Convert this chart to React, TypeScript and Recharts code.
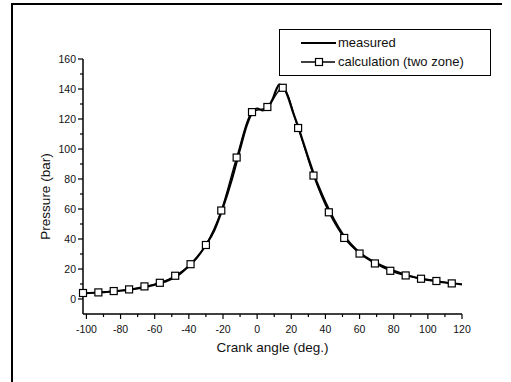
import { Legend, Line, LineChart, XAxis, YAxis, Label } from 'recharts';

// crank angle (deg.) / pressure (bar)
const measuredAngle = [
  -102, -90, -80, -70, -60, -50, -45, -40, -35, -30, -25, -20, -15, -10, -6, -3, 0, 3, 6, 9, 11, 13, 15, 18,
  21, 24, 27, 30, 33, 36, 40, 45, 50, 55, 60, 70, 80, 90, 100, 110, 120
];
const measuredPressure = [
  3.8, 4.5, 5.5, 7, 9.5, 13.5, 17, 22, 28, 36, 46, 61, 79, 100, 116, 124, 127, 125.8, 127.5, 133, 139, 143, 142, 135,
  124.5, 115, 104.5, 94, 84, 75, 64.5, 53, 43.5, 36.5, 31, 23.8, 18.8, 15.2, 12.7, 11, 9.8
];

const calcAngle = [
  -102, -93, -84, -75, -66, -57, -48, -39, -30, -21, -12, -3, 6, 15, 24, 33, 42, 51, 60, 69, 78, 87, 96, 105, 114
];
const calcPressure = [
  4.0, 4.4, 5.3, 6.4, 8.4, 10.8, 15.5, 23.2, 36, 59, 94.3, 124.6, 128, 140.8, 114, 82.3, 57.8, 40.7, 30.3, 23.7,
  18.8, 15.7, 13.5, 12, 10.4
];

const xTicks = [-100, -90, -80, -70, -60, -50, -40, -30, -20, -10, 0, 10, 20, 30, 40, 50, 60, 70, 80, 90, 100, 110, 120];
const yTicks = [0, 10, 20, 30, 40, 50, 60, 70, 80, 90, 100, 110, 120, 130, 140, 150, 160];

const measured = measuredAngle.map((angle, i) => ({ angle, pressure: measuredPressure[i] }));
const calculation = calcAngle.map((angle, i) => ({ angle, pressure: calcPressure[i] }));

const FONT = '"Liberation Sans", Arial, sans-serif';

function SquareDot(props: any) {
  const { cx, cy } = props;
  if (cx == null || cy == null) return null;
  return <rect x={cx - 3.5} y={cy - 3.5} width={7} height={7} fill="#fff" stroke="#000" strokeWidth={1.2} />;
}

function YTick(props: any) {
  const { x, y, payload } = props;
  const major = payload.value % 20 === 0;
  return (
    <g>
      <line x1={x} x2={x - (major ? 5 : 3)} y1={y} y2={y} stroke="#000" strokeWidth={1.2} />
      {major && (
        <text x={x - 7} y={y} dy={3.8} textAnchor="end" fontSize={10.5} fontFamily={FONT} fill="#111">
          {payload.value}
        </text>
      )}
    </g>
  );
}

function XTick(props: any) {
  const { x, y, payload } = props;
  const major = payload.value % 20 === 0;
  return (
    <g>
      <line x1={x} x2={x} y1={y} y2={y + (major ? 5 : 3)} stroke="#000" strokeWidth={1.2} />
      {major && (
        <text x={x} y={y + 19} textAnchor="middle" fontSize={10.5} fontFamily={FONT} fill="#111">
          {payload.value}
        </text>
      )}
    </g>
  );
}

function YTitle(props: any) {
  const { viewBox } = props;
  const cx = viewBox.x + 2;
  const cy = viewBox.y + viewBox.height / 2 + 10;
  return (
    <text
      x={cx}
      y={cy}
      transform={`rotate(-90 ${cx} ${cy})`}
      textAnchor="middle"
      dominantBaseline="central"
      fontSize={13.5}
      fontFamily={FONT}
      fill="#111"
    >
      Pressure (bar)
    </text>
  );
}

function LegendBox() {
  return (
    <div
      style={{
        width: 210,
        height: 42,
        border: '1.5px solid #000',
        fontFamily: FONT,
        fontSize: 13,
        color: '#111',
        lineHeight: '19px',
        paddingTop: 3
      }}
    >
      <div style={{ display: 'flex', alignItems: 'center' }}>
        <svg width={58} height={19}>
          <line x1={21} x2={56} y1={10} y2={10} stroke="#000" strokeWidth={2} />
        </svg>
        <span>measured</span>
      </div>
      <div style={{ display: 'flex', alignItems: 'center' }}>
        <svg width={58} height={19}>
          <line x1={21} x2={55} y1={10} y2={10} stroke="#000" strokeWidth={1.3} />
          <rect x={35.5} y={6.5} width={7} height={7} fill="#fff" stroke="#000" strokeWidth={1.2} />
        </svg>
        <span>calculation (two zone)</span>
      </div>
    </div>
  );
}

export default function App() {
  return (
    <div style={{ position: 'fixed', left: 0, top: 0, width: 511, height: 382, background: '#fff', overflow: 'hidden' }}>
      <LineChart width={511} height={382} margin={{ top: 59, right: 49, bottom: 38, left: 43 }}>
        <XAxis
          type="number"
          dataKey="angle"
          domain={[-102, 120]}
          ticks={xTicks}
          interval={0}
          allowDuplicatedCategory={false}
          height={30}
          tickSize={0}
          tickMargin={0}
          tickLine={false}
          tick={<XTick />}
          axisLine={{ stroke: '#000', strokeWidth: 1.5 }}
        >
          <Label
            value="Crank angle (deg.)"
            position="bottom"
            offset={-2}
            style={{ fontSize: 13.5, fontFamily: FONT, fill: '#111' }}
          />
        </XAxis>
        <YAxis
          type="number"
          domain={[-10, 160]}
          ticks={yTicks}
          interval={0}
          width={40}
          tickSize={0}
          tickMargin={0}
          tickLine={false}
          tick={<YTick />}
          axisLine={{ stroke: '#000', strokeWidth: 1.5 }}
        >
          <Label content={<YTitle />} />
        </YAxis>
        <Legend
          layout="vertical"
          align="center"
          verticalAlign="middle"
          wrapperStyle={{ left: 279, top: 29, width: 213 }}
          content={<LegendBox />}
        />
        <Line
          data={measured}
          dataKey="pressure"
          name="measured"
          type="monotone"
          stroke="#000"
          strokeWidth={2.2}
          dot={false}
          activeDot={false}
          isAnimationActive={false}
        />
        <Line
          data={calculation}
          dataKey="pressure"
          name="calculation (two zone)"
          type="monotone"
          stroke="#000"
          strokeWidth={1.3}
          dot={<SquareDot />}
          activeDot={false}
          isAnimationActive={false}
        />
      </LineChart>
      {/* scanned page frame: left and top edges only */}
      <div style={{ position: 'absolute', left: 11, top: 3, width: 2, height: 379, background: '#000', zIndex: 5 }} />
      <div style={{ position: 'absolute', left: 11, top: 3, width: 491, height: 2, background: '#000', zIndex: 5 }} />
    </div>
  );
}
